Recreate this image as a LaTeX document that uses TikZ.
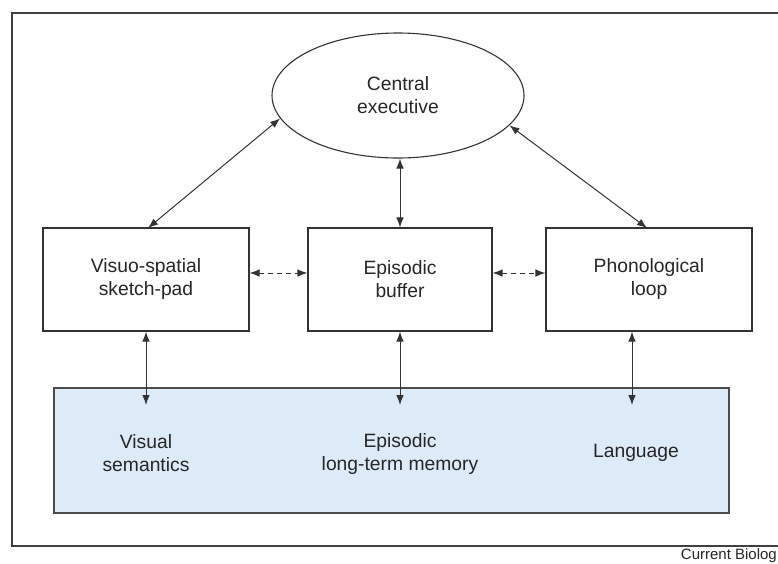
\documentclass[tikz,border=0pt]{standalone}
\usepackage{fontspec}
\setmainfont{Liberation Sans}
\usetikzlibrary{shapes.geometric,arrows.meta}
\definecolor{lineg}{HTML}{333333}
\definecolor{ltmfill}{HTML}{DDEAF7}
\begin{document}
\begin{tikzpicture}[x=1pt,y=-1pt,
  every node/.style={font=\fontsize{19.3}{23}\selectfont, text=black!85, align=center},
  boxnode/.style={draw=lineg, line width=1.1pt, rectangle, inner sep=0pt, minimum height=103pt},
  conn/.style={draw=lineg, line width=1pt, {Latex[length=10pt,width=7.5pt]}-{Latex[length=10pt,width=7.5pt]}},
  dconn/.style={conn, dash pattern=on 5pt off 4pt},
  frame/.style={draw=black!75, line width=1.2pt}
]
\useasboundingbox (0,0) rectangle (778,563);
\clip (0,0) rectangle (778,563);
% outer frame (runs past the right edge)
\draw[frame] (790,13) -- (12,13) -- (12,546) -- (790,546);
% long-term memory store
\node[draw=black!70, line width=1.1pt, fill=ltmfill, rectangle, inner sep=0pt,
      minimum width=675pt, minimum height=125pt] (ltm) at (391.5,450.5) {};
% central executive
\node[draw=lineg, line width=1.1pt, ellipse, inner sep=0pt,
      minimum width=252pt, minimum height=125pt] (ce) at (398,95.5) {Central\\executive};
% slave systems
\node[boxnode, minimum width=206pt] (vs) at (146,279.5) {Visuo-spatial\\sketch-pad};
\node[boxnode, minimum width=184pt] (eb) at (400,279.5) {Episodic\\buffer};
\node[boxnode, minimum width=206pt] (pl) at (649,279.5) {Phonological\\loop};
% long-term labels
\node (vsem) at (146,453.5) {Visual\\semantics};
\node (eltm) at (400,453.5) {Episodic\\long-term memory};
\node (lang) at (636,453) {Language};
% connector end points inside the store
\coordinate (v1) at (146,405);
\coordinate (v2) at (400,405);
\coordinate (v3) at (632,405);
\coordinate (vtop) at (148,228);
\coordinate (ptop) at (647,228);
% connectors
\draw[conn] (ce.191) -- (vtop);
\draw[conn] (ce.south -| eb.north) -- (eb.north);
\draw[conn] (ce.-15) -- (ptop);
\draw[dconn] ([yshift=6.5pt]vs.east) -- ([yshift=6.5pt]eb.west);
\draw[dconn] ([yshift=6.5pt]eb.east) -- ([yshift=6.5pt]pl.west);
\draw[conn] (vs.south) -- (v1);
\draw[conn] (eb.south) -- (v2);
\draw[conn] (pl.south -| v3) -- (v3);
% credit line (printed cut off in the reference)
\node[font=\fontsize{15}{17}\selectfont, anchor=east, inner sep=0pt] (credit) at (777,556) {Current Biolog};
\end{tikzpicture}
\end{document}
